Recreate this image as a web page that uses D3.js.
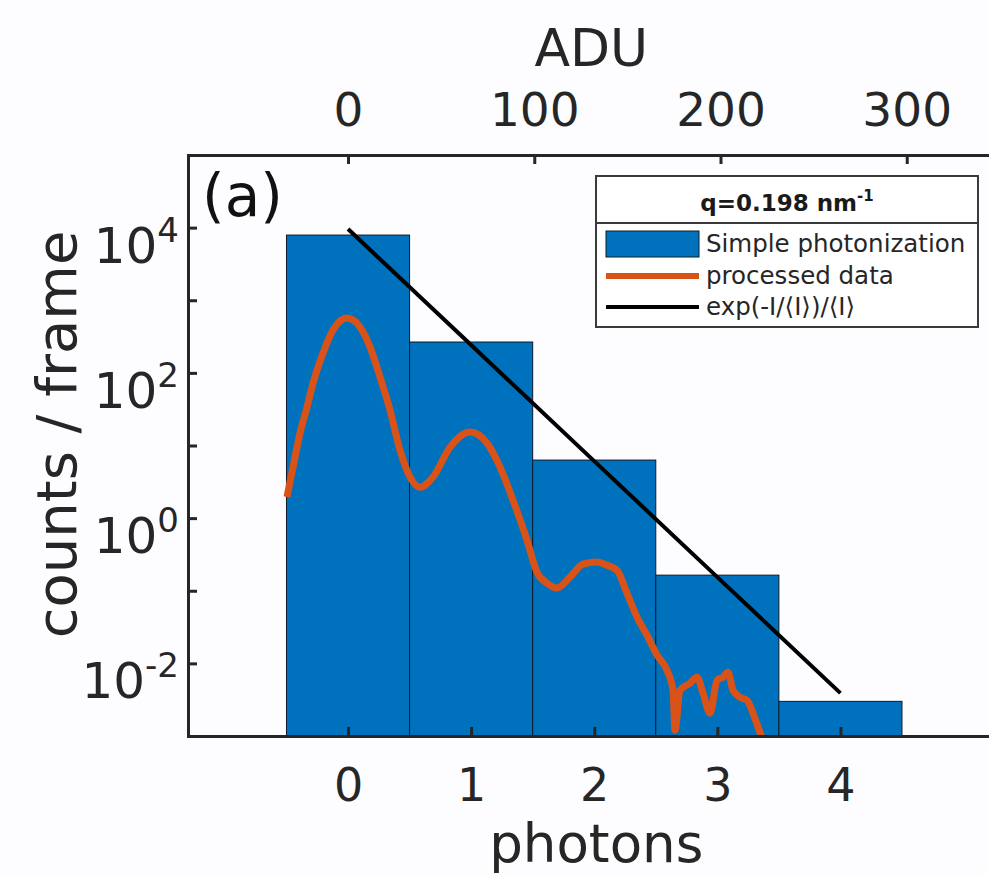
<!DOCTYPE html>
<html>
<head>
<meta charset="utf-8">
<script src="https://cdn.jsdelivr.net/npm/d3@7"></script>
<style>
  html, body { margin: 0; padding: 0; background: #fdfcfe; }
  svg { display: block; font-family: "DejaVu Sans", sans-serif; }
</style>
</head>
<body>
<svg id="chart" width="989" height="874"></svg>
<script>
// ---------- data ----------
const photonBins = [0, 1, 2, 3, 4];
const simpleCounts = [7900, 266, 6.3, 0.164, 0.0030];

const expPhotons = [0, 1, 2, 3, 4];
const expValues = [9570, 242, 6.10, 0.154, 0.00389];

const processedX = [-0.496, -0.447, -0.390, -0.333, -0.284, -0.203, -0.122, -0.008, 0.097, 0.179,
  0.260, 0.341, 0.422, 0.504, 0.585, 0.690, 0.829, 0.991, 1.129, 1.235,
  1.340, 1.454, 1.535, 1.617, 1.698, 1.803, 1.909, 2.023, 2.104, 2.185,
  2.266, 2.348, 2.429, 2.510, 2.591, 2.640, 2.656, 2.697, 2.778, 2.835,
  2.884, 2.941, 2.998, 3.046, 3.087, 3.127, 3.184, 3.241, 3.290, 3.331, 3.363];
const processedY = [1.95, 5.04, 14.8, 33.8, 72.4, 188, 389, 569, 428, 226,
  87.5, 30.7, 8.65, 3.67, 2.67, 3.67, 9.51, 15.3, 10.8, 5.04,
  1.77, 0.498, 0.180, 0.127, 0.109, 0.154, 0.232, 0.248, 0.225, 0.192,
  0.0927, 0.0433, 0.0244, 0.0130, 0.00805, 0.00428, 0.00120, 0.00428, 0.00533, 0.00645,
  0.00389, 0.00206, 0.00587, 0.00645, 0.00757, 0.00428, 0.00342, 0.00311, 0.00206, 0.00132, 0.00095];

const photonTicks = [0, 1, 2, 3, 4];
const aduTicks = [0, 100, 200, 300];
const aduPerPhoton = 66.1;
const yTickExps = [-3, -2, -1, 0, 1, 2, 3, 4, 5];
const yLabelExps = [-2, 0, 2, 4];

const legendTitle = "q=0.198 nm";
const legendLabels = ["Simple photonization", "processed data", "exp(-I/\u27E8I\u27E9)/\u27E8I\u27E9"];

// ---------- layout ----------
const plot = { left: 188, top: 155, bottom: 736 };
const pxPerPhoton = 123.1;
const xDomain = [-1.3, 5.3];
const colors = { bar: "#0072BD", orange: "#D95319", axis: "#262626" };

const svg = d3.select("#chart");
const x = d3.scaleLinear().domain(xDomain)
  .range([plot.left, plot.left + (xDomain[1] - xDomain[0]) * pxPerPhoton]);
const xAdu = d3.scaleLinear().domain(xDomain.map(d => d * aduPerPhoton)).range(x.range());
const y = d3.scaleLog().domain([1e-3, 1e5]).range([plot.bottom, plot.top]);
const plotRight = x.range()[1];

svg.append("defs").append("clipPath").attr("id", "clip")
  .append("rect").attr("x", plot.left).attr("y", plot.top)
  .attr("width", plotRight - plot.left).attr("height", plot.bottom - plot.top);

const g = svg.append("g").attr("clip-path", "url(#clip)");

// bars
g.selectAll("rect.bar").data(photonBins.map((p, i) => ({ p, v: simpleCounts[i] })))
  .enter().append("rect").attr("class", "bar")
  .attr("x", d => x(d.p - 0.5))
  .attr("width", d => x(d.p + 0.5) - x(d.p - 0.5))
  .attr("y", d => y(d.v))
  .attr("height", d => plot.bottom - y(d.v))
  .attr("fill", colors.bar)
  .attr("stroke", "#0a1a2a").attr("stroke-width", 1);

// processed data
const line = d3.line().x(d => x(d[0])).y(d => y(d[1])).curve(d3.curveMonotoneX);
g.append("path").datum(processedX.map((v, i) => [v, processedY[i]]))
  .attr("d", line).attr("fill", "none")
  .attr("stroke", colors.orange).attr("stroke-width", 7)
  .attr("stroke-linejoin", "round").attr("stroke-linecap", "butt");

// exp line
g.append("path").datum(expPhotons.map((v, i) => [v, expValues[i]]))
  .attr("d", d3.line().x(d => x(d[0])).y(d => y(d[1])))
  .attr("fill", "none").attr("stroke", "#000").attr("stroke-width", 4);

// ---------- axes ----------
const axisG = svg.append("g");
// bottom axis
const bottomAxis = d3.axisBottom(x).tickValues(photonTicks).tickSize(-9).tickPadding(32).tickFormat(d3.format("d"));
axisG.append("g").attr("transform", `translate(0,${plot.bottom})`).call(bottomAxis)
  .call(s => {
    s.select(".domain").attr("stroke", colors.axis).attr("stroke-width", 3);
    s.selectAll(".tick line").attr("stroke", colors.axis).attr("stroke-width", 3);
    s.selectAll("text").attr("font-size", 46).attr("fill", colors.axis).attr("font-family", "DejaVu Sans");
  });
// top axis
const topAxis = d3.axisTop(xAdu).tickValues(aduTicks).tickSize(-9).tickPadding(29).tickFormat(d3.format("d"));
axisG.append("g").attr("transform", `translate(0,${plot.top})`).call(topAxis)
  .call(s => {
    s.select(".domain").attr("stroke", colors.axis).attr("stroke-width", 3);
    s.selectAll(".tick line").attr("stroke", colors.axis).attr("stroke-width", 3);
    s.selectAll("text").attr("font-size", 47).attr("fill", colors.axis).attr("font-family", "DejaVu Sans");
  });
// left axis
const leftAxis = d3.axisLeft(y).tickValues(yTickExps.map(e => Math.pow(10, e))).tickSize(-9).tickFormat("");
const la = axisG.append("g").attr("transform", `translate(${plot.left},0)`).call(leftAxis);
la.select(".domain").attr("stroke", colors.axis).attr("stroke-width", 3);
la.selectAll(".tick line").attr("stroke", colors.axis).attr("stroke-width", 3);

yLabelExps.forEach(e => {
  const t = axisG.append("text")
    .attr("x", plot.left - 9).attr("y", y(Math.pow(10, e)) + 35)
    .attr("text-anchor", "end").attr("fill", colors.axis).attr("font-size", 50);
  t.append("tspan").text("10");
  t.append("tspan").attr("font-size", 34).attr("dy", -21).text(e < 0 ? "-" + Math.abs(e) : String(e));
});

// axis titles
svg.append("text").attr("x", (x(0) + x(4)) / 2 + 2).attr("y", 862)
  .attr("text-anchor", "middle").attr("font-size", 53).attr("fill", colors.axis).text("photons");
svg.append("text").attr("x", xAdu(100) + 57).attr("y", 66)
  .attr("text-anchor", "middle").attr("font-size", 52).attr("fill", colors.axis).text("ADU");
svg.append("text")
  .attr("transform", `translate(76,${(plot.top + plot.bottom) / 2 - 11}) rotate(-90)`)
  .attr("text-anchor", "middle").attr("font-size", 56).attr("fill", colors.axis).text("counts / frame");

// panel label
svg.append("text").attr("x", 202).attr("y", 216).attr("font-size", 58).attr("fill", "#111").text("(a)");

// ---------- legend ----------
const lg = svg.append("g");
const L = { x: 596, y: 176, w: 382, h: 151, sep: 47 };
lg.append("rect").attr("x", L.x).attr("y", L.y).attr("width", L.w).attr("height", L.h)
  .attr("fill", "#fff").attr("stroke", "#3a3a3a").attr("stroke-width", 2);
lg.append("line").attr("x1", L.x).attr("x2", L.x + L.w).attr("y1", L.y + L.sep).attr("y2", L.y + L.sep)
  .attr("stroke", "#3a3a3a").attr("stroke-width", 2);
const tt = lg.append("text").attr("x", L.x + L.w / 2).attr("y", 211)
  .attr("text-anchor", "middle").attr("font-size", 23).attr("font-weight", "bold").attr("fill", "#1a1a1a");
tt.append("tspan").text(legendTitle);
tt.append("tspan").attr("font-size", 15).attr("dy", -10).text("-1");

const rowY = [244, 276, 307];
lg.append("rect").attr("x", 606).attr("y", rowY[0] - 13).attr("width", 93).attr("height", 26)
  .attr("fill", colors.bar).attr("stroke", "#0a1a2a").attr("stroke-width", 1);
lg.append("line").attr("x1", 606).attr("x2", 699).attr("y1", rowY[1]).attr("y2", rowY[1])
  .attr("stroke", colors.orange).attr("stroke-width", 6);
lg.append("line").attr("x1", 606).attr("x2", 699).attr("y1", rowY[2]).attr("y2", rowY[2])
  .attr("stroke", "#000").attr("stroke-width", 4);
legendLabels.forEach((s, i) => {
  lg.append("text").attr("x", 706).attr("y", rowY[i] + 8).attr("font-size", 24.5)
    .attr("fill", "#262626").text(s);
});
</script>
</body>
</html>
